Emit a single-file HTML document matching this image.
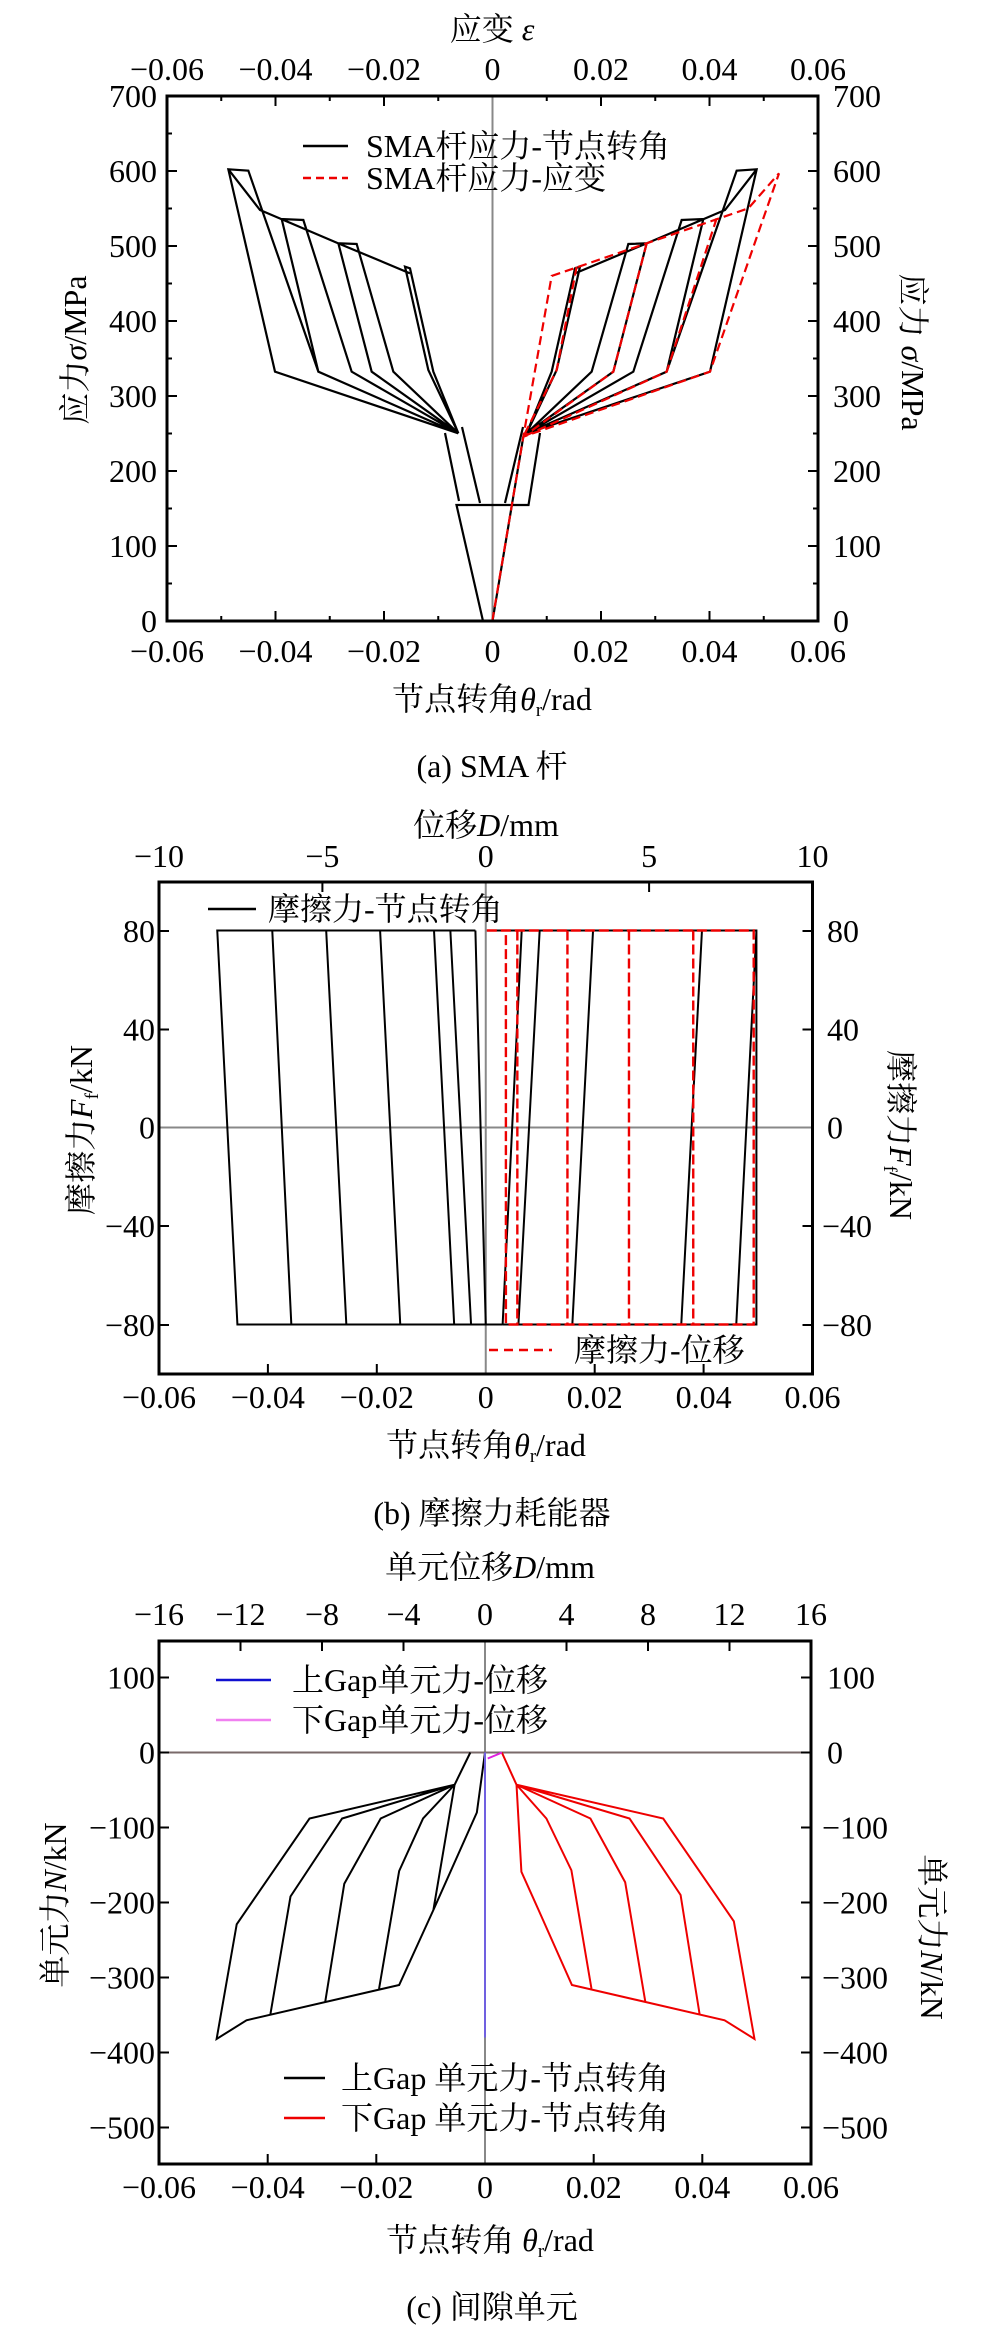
<!DOCTYPE html>
<html><head><meta charset="utf-8"><style>
html,body{margin:0;padding:0;background:#fff}
svg{display:block}
text{font-family:"Liberation Serif","Noto Serif CJK SC",serif;font-size:32px;fill:#000}
.l{vector-effect:non-scaling-stroke;fill:none}
</style></head><body>
<svg width="985" height="2335" viewBox="0 0 985 2335" xmlns="http://www.w3.org/2000/svg">
<!-- ================= (a) ================= -->
<line x1="492.5" y1="96" x2="492.5" y2="621" stroke="#888" stroke-width="2"/>
<path stroke="#000" stroke-width="2.2" fill="none" d="M483,621 L456.5,505 L528.5,505 L540,433 M459,501 L445,433 M480,503 L462,427 M505,503 L523,427 M492.5,621 L523.3,436.7"/>
<g transform="translate(480,150) scale(0.33333)" stroke="#000" stroke-width="2.2">
 <path class="l" d="M140,850 L335,665 L445,282 L500,280 L400,665 L140,850
 M140,850 L460,665 L605,210 L670,207 L560,665 L140,850
 M140,850 L560,665 L770,62 L830,58 L690,665 L140,850
 M140,850 L215,665 L285,355 L300,350 L230,660 L140,850
 M285,370 L500,280 L735,180 L830,58"/>
</g>
<g transform="translate(505,150) scale(-0.33333,0.33333)" stroke="#000" stroke-width="2.2">
 <path class="l" d="M140,850 L335,665 L445,282 L500,280 L400,665 L140,850
 M140,850 L460,665 L605,210 L670,207 L560,665 L140,850
 M140,850 L560,665 L770,62 L830,58 L690,665 L140,850
 M140,850 L215,665 L285,355 L300,350 L230,660 L140,850
 M285,370 L500,280 L735,180 L830,58"/>
</g>
<g transform="translate(480,150) scale(0.33333)" stroke="#e00" stroke-width="2.2" stroke-dasharray="9,5">
 <path class="l" d="M37,1413 L130,860 L215,378 L805,175 L897,70 L690,665 L130,860
 M710,205 L560,665 L130,860 M500,280 L400,665 L130,860 M290,350 L230,660 L130,860"/>
</g>
<rect x="167" y="96" width="651" height="525" fill="none" stroke="#000" stroke-width="3"/>
<path stroke="#000" stroke-width="2" fill="none" d="
M275.5,621v-10M384,621v-10M601,621v-10M709.5,621v-10M221.25,621v-5M329.75,621v-5M438.25,621v-5M546.75,621v-5M655.25,621v-5M763.75,621v-5
M275.5,96v10M384,96v10M601,96v10M709.5,96v10M221.25,96v5M329.75,96v5M438.25,96v5M546.75,96v5M655.25,96v5M763.75,96v5
M167,546h10M167,471h10M167,396h10M167,321h10M167,246h10M167,171h10M167,583.5h5M167,508.5h5M167,433.5h5M167,358.5h5M167,283.5h5M167,208.5h5M167,133.5h5
M818,546h-10M818,471h-10M818,396h-10M818,321h-10M818,246h-10M818,171h-10M818,583.5h-5M818,508.5h-5M818,433.5h-5M818,358.5h-5M818,283.5h-5M818,208.5h-5M818,133.5h-5"/>
<text x="492" y="40" text-anchor="middle">应变 <tspan font-style="italic">ε</tspan></text>
<g text-anchor="middle">
<text x="167" y="80">−0.06</text><text x="275.5" y="80">−0.04</text><text x="384" y="80">−0.02</text><text x="492.5" y="80">0</text><text x="601" y="80">0.02</text><text x="709.5" y="80">0.04</text><text x="818" y="80">0.06</text>
<text x="167" y="662">−0.06</text><text x="275.5" y="662">−0.04</text><text x="384" y="662">−0.02</text><text x="492.5" y="662">0</text><text x="601" y="662">0.02</text><text x="709.5" y="662">0.04</text><text x="818" y="662">0.06</text>
</g>
<g text-anchor="end">
<text x="157" y="632">0</text><text x="157" y="557">100</text><text x="157" y="482">200</text><text x="157" y="407">300</text><text x="157" y="332">400</text><text x="157" y="257">500</text><text x="157" y="182">600</text><text x="157" y="107">700</text>
</g>
<g>
<text x="833" y="632">0</text><text x="833" y="557">100</text><text x="833" y="482">200</text><text x="833" y="407">300</text><text x="833" y="332">400</text><text x="833" y="257">500</text><text x="833" y="182">600</text><text x="833" y="107">700</text>
</g>
<text transform="translate(86,350) rotate(-90)" text-anchor="middle">应力<tspan font-style="italic">σ</tspan>/MPa</text>
<text transform="translate(902,352) rotate(90)" text-anchor="middle">应力 <tspan font-style="italic">σ</tspan>/MPa</text>
<text x="492" y="710" text-anchor="middle">节点转角<tspan font-style="italic">θ</tspan><tspan font-size="19" dy="6">r</tspan><tspan dy="-6">/rad</tspan></text>
<text x="492" y="777" text-anchor="middle">(a) SMA 杆</text>
<line x1="303" y1="146" x2="348" y2="146" stroke="#000" stroke-width="2.5"/>
<line x1="303" y1="178" x2="348" y2="178" stroke="#e00" stroke-width="2.5" stroke-dasharray="8,5"/>
<text x="366" y="157">SMA杆应力-节点转角</text>
<text x="366" y="189">SMA杆应力-应变</text>

<!-- ================= (b) ================= -->
<line x1="159" y1="1127.5" x2="812.5" y2="1127.5" stroke="#888" stroke-width="2"/>
<line x1="485.75" y1="882" x2="485.75" y2="1374" stroke="#888" stroke-width="2"/>
<g transform="translate(485.75,1127.5) scale(5.446,-2.4625)">
 <path class="l" stroke="#000" stroke-width="2" d="M-1.9,80 L-49.3,80 L-45.6,-80 L3.1,-80
 M-39.2,80 L-35.7,-80 M-29.3,80 L-25.6,-80 M-19.4,80 L-15.7,-80 M-9.5,80 L-5.8,-80 M-6.5,80 L-2.7,-80 M-1.9,80 L0,-80
 M0.2,80 L49.7,80 L49.7,-80 L3.1,-80
 M3.1,-80 L6.6,80 M6.0,-80 L9.9,80 M15.9,-80 L19.7,80 M35.9,-80 L39.7,80 M46.0,-80 L49.7,80"/>
 <path class="l" stroke="#e00" stroke-width="2.4" stroke-dasharray="10,4" d="M0.2,80 L49.2,80 L49.2,-80 L3.7,-80 L3.7,80
 M5.8,80 L5.8,-80 M15,80 L15,-80 M26.3,80 L26.3,-80 M38.1,80 L38.1,-80"/>
</g>
<rect x="159" y="882" width="653.5" height="492" fill="none" stroke="#000" stroke-width="3"/>
<path stroke="#000" stroke-width="2" fill="none" d="
M267.9,1374v-10M376.8,1374v-10M594.7,1374v-10M703.6,1374v-10
M322.4,882v10M649.1,882v10
M159,931h10M159,1029.5h10M159,1226h10M159,1325h10
M812.5,931h-10M812.5,1029.5h-10M812.5,1226h-10M812.5,1325h-10"/>
<text x="486" y="836" text-anchor="middle">位移<tspan font-style="italic">D</tspan>/mm</text>
<g text-anchor="middle">
<text x="159" y="867">−10</text><text x="322.4" y="867">−5</text><text x="485.75" y="867">0</text><text x="649.1" y="867">5</text><text x="812.5" y="867">10</text>
<text x="159" y="1408">−0.06</text><text x="267.9" y="1408">−0.04</text><text x="376.8" y="1408">−0.02</text><text x="485.75" y="1408">0</text><text x="594.7" y="1408">0.02</text><text x="703.6" y="1408">0.04</text><text x="812.5" y="1408">0.06</text>
</g>
<g text-anchor="end">
<text x="155" y="942">80</text><text x="155" y="1040.5">40</text><text x="155" y="1138.5">0</text><text x="155" y="1237">−40</text><text x="155" y="1336">−80</text>
</g>
<g>
<text x="827" y="942">80</text><text x="827" y="1040.5">40</text><text x="827" y="1138.5">0</text><text x="822" y="1237">−40</text><text x="822" y="1336">−80</text>
</g>
<text transform="translate(92,1130) rotate(-90)" text-anchor="middle">摩擦力<tspan font-style="italic">F</tspan><tspan font-size="19" dy="6">f</tspan><tspan dy="-6">/kN</tspan></text>
<text transform="translate(890,1135) rotate(90)" text-anchor="middle">摩擦力<tspan font-style="italic">F</tspan><tspan font-size="19" dy="6">f</tspan><tspan dy="-6">/kN</tspan></text>
<text x="486" y="1456" text-anchor="middle">节点转角<tspan font-style="italic">θ</tspan><tspan font-size="19" dy="6">r</tspan><tspan dy="-6">/rad</tspan></text>
<text x="492" y="1524" text-anchor="middle">(b)  摩擦力耗能器</text>
<line x1="208" y1="909" x2="256" y2="909" stroke="#000" stroke-width="2.5"/>
<text x="268" y="920">摩擦力-节点转角</text>
<line x1="489" y1="1350" x2="552" y2="1350" stroke="#e00" stroke-width="2.5" stroke-dasharray="9,6"/>
<text x="574" y="1361">摩擦力-位移</text>

<!-- ================= (c) ================= -->
<line x1="485" y1="1641" x2="485" y2="2164" stroke="#888" stroke-width="2"/>
<g transform="translate(485,1752.5) scale(5.433,-0.75)">
 <path class="l" stroke="#7a6a6a" stroke-width="2" d="M-60,0 L60,0"/>
 <path class="l" stroke="#000" stroke-width="2" d="M-2.7,0 L-5.6,-43 L-9.5,-210 L-15.8,-310 L-43.9,-357 L-49.4,-382 L-45.7,-229 L-32.3,-88 L-5.6,-43
 M-5.6,-43 L-11.4,-88 L-15.8,-158 L-19.5,-315
 M-5.6,-43 L-19.2,-88 L-25.9,-175 L-29.4,-332
 M-5.6,-43 L-26.3,-88 L-35.8,-192 L-39.5,-349
 M0,0 L-1.5,-80 L-9.5,-210"/>
 <path class="l" stroke="#e00" stroke-width="2" d="M3.1,0 L5.8,-43 L6.7,-159 L9.8,-209 L16,-310 L44.1,-357 L49.6,-382 L45.8,-225 L32.8,-88 L5.8,-43
 M5.8,-43 L11.3,-88 L15.9,-157 L19.6,-315
 M5.8,-43 L19.4,-88 L25.8,-173 L29.5,-332
 M5.8,-43 L26.6,-88 L36,-190 L39.5,-349"/>
 <path class="l" stroke="#7060e0" stroke-width="2" d="M0,0 L0,-380"/>
 <path class="l" stroke="#e020e0" stroke-width="2" d="M0.5,-8 L2.5,-2 L3.1,0"/>
</g>
<rect x="159" y="1641" width="652" height="523" fill="none" stroke="#000" stroke-width="3"/>
<path stroke="#000" stroke-width="2" fill="none" d="
M267.7,2164v-10M376.3,2164v-10M593.7,2164v-10M702.3,2164v-10
M240.5,1641v10M322,1641v10M403.5,1641v10M566.5,1641v10M648,1641v10M729.5,1641v10
M159,1677.5h10M159,1752.5h10M159,1827.5h10M159,1902.5h10M159,1977.5h10M159,2052.5h10M159,2127.5h10
M811,1677.5h-10M811,1752.5h-10M811,1827.5h-10M811,1902.5h-10M811,1977.5h-10M811,2052.5h-10M811,2127.5h-10"/>
<text x="490" y="1578" text-anchor="middle">单元位移<tspan font-style="italic">D</tspan>/mm</text>
<g text-anchor="middle">
<text x="159" y="1625">−16</text><text x="240.5" y="1625">−12</text><text x="322" y="1625">−8</text><text x="403.5" y="1625">−4</text><text x="485" y="1625">0</text><text x="566.5" y="1625">4</text><text x="648" y="1625">8</text><text x="729.5" y="1625">12</text><text x="811" y="1625">16</text>
<text x="159" y="2198">−0.06</text><text x="267.7" y="2198">−0.04</text><text x="376.3" y="2198">−0.02</text><text x="485" y="2198">0</text><text x="593.7" y="2198">0.02</text><text x="702.3" y="2198">0.04</text><text x="811" y="2198">0.06</text>
</g>
<g text-anchor="end">
<text x="155" y="1688.5">100</text><text x="155" y="1763.5">0</text><text x="155" y="1838.5">−100</text><text x="155" y="1913.5">−200</text><text x="155" y="1988.5">−300</text><text x="155" y="2063.5">−400</text><text x="155" y="2138.5">−500</text>
</g>
<g>
<text x="827" y="1688.5">100</text><text x="827" y="1763.5">0</text><text x="822" y="1838.5">−100</text><text x="822" y="1913.5">−200</text><text x="822" y="1988.5">−300</text><text x="822" y="2063.5">−400</text><text x="822" y="2138.5">−500</text>
</g>
<text transform="translate(66,1905) rotate(-90)" text-anchor="middle">单元力<tspan font-style="italic">N</tspan>/kN</text>
<text transform="translate(921,1937) rotate(90)" text-anchor="middle">单元力<tspan font-style="italic">N</tspan>/kN</text>
<text x="490" y="2251" text-anchor="middle">节点转角 <tspan font-style="italic">θ</tspan><tspan font-size="19" dy="6">r</tspan><tspan dy="-6">/rad</tspan></text>
<text x="492" y="2318" text-anchor="middle">(c)  间隙单元</text>
<line x1="216" y1="1680" x2="271" y2="1680" stroke="#1010d0" stroke-width="2.5"/>
<text x="292" y="1691">上Gap单元力-位移</text>
<line x1="216" y1="1720" x2="271" y2="1720" stroke="#f080f0" stroke-width="2.5"/>
<text x="292" y="1731">下Gap单元力-位移</text>
<line x1="284" y1="2078" x2="325" y2="2078" stroke="#000" stroke-width="2.5"/>
<text x="341" y="2089">上Gap 单元力-节点转角</text>
<line x1="284" y1="2118" x2="325" y2="2118" stroke="#e00" stroke-width="2.5"/>
<text x="341" y="2129">下Gap 单元力-节点转角</text>
</svg>
</body></html>
